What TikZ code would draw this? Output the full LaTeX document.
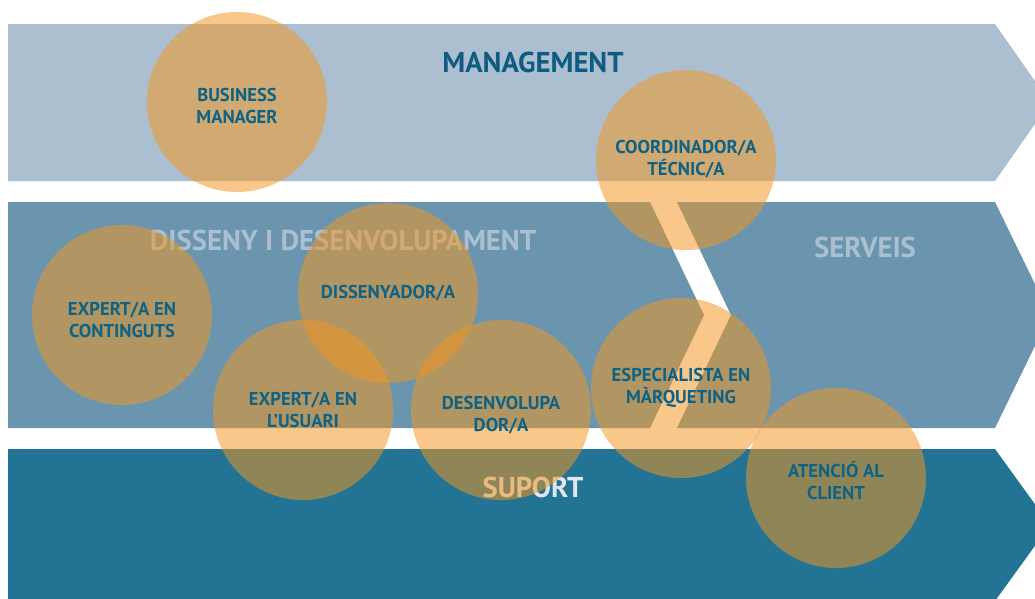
\documentclass[tikz,border=0pt]{standalone}
\usepackage{fontspec}
\setmainfont{PT Sans}
\definecolor{bandtop}{RGB}{171,191,209}
\definecolor{bandmid}{RGB}{107,149,175}
\definecolor{bandbot}{RGB}{35,116,148}
\definecolor{circ}{RGB}{243,149,30}
\definecolor{labelc}{RGB}{14,98,133}
\definecolor{titlec}{RGB}{16,92,128}
\definecolor{paletitle}{RGB}{171,191,209}
\definecolor{suporttitle}{RGB}{226,229,238}
\tikzset{
  band/.style={fill=#1, draw=none},
  role/.style={circle, minimum size=180pt, inner sep=0pt, fill=circ, fill opacity=0.52, draw=none},
  rolelabel/.style={text=labelc, font=\bfseries\fontsize{18.6}{22}\selectfont, align=center, inner sep=0pt},
  bandtitle/.style={font=\bfseries\fontsize{28.7}{32}\selectfont, inner sep=0pt}
}
\begin{document}
\begin{tikzpicture}[x=1pt,y=-1pt]
\useasboundingbox (0,0) rectangle (1035,598);
\clip (0,0) rectangle (1035,598);
\fill[white] (0,0) rectangle (1035,598);
% bands
\fill[band=bandtop] (8,24) -- (995,24) -- (1050,102.5) -- (995,181) -- (8,181) -- cycle;
\fill[band=bandmid] (8,202) -- (650,202) -- (704,315) -- (650,428) -- (8,428) -- cycle;
\fill[band=bandmid] (677,202) -- (995,202) -- (1050,315) -- (995,428) -- (677,428) -- (731,315) -- cycle;
\fill[band=bandbot] (8,449) -- (995,449) -- (1050,525) -- (995,601) -- (8,601) -- cycle;
% band titles
\node[bandtitle, text=titlec] (tman) at (533,62) {MANAGEMENT};
\node[bandtitle, text=paletitle] (tdis) at (343,240) {DISSENY I DESENVOLUPAMENT};
\node[bandtitle, text=paletitle] (tser) at (865,247) {SERVEIS};
\node[bandtitle, text=suporttitle] (tsup) at (533,487) {SUPORT};
% circles
\node[role] (c1) at (237,102) {};
\node[role] (c2) at (686,160) {};
\node[role] (c3) at (122,315) {};
\node[role] (c4) at (388,293) {};
\node[role] (c5) at (303,410) {};
\node[role] (c6) at (501,410) {};
\node[role] (c7) at (681,388) {};
\node[role] (c8) at (836,478) {};
% labels
\node[rolelabel] (l1) at (237,106) {BUSINESS\\MANAGER};
\node[rolelabel] (l2) at (686,159) {COORDINADOR/A\\TÉCNIC/A};
\node[rolelabel] (l3) at (122,320) {EXPERT/A EN\\CONTINGUTS};
\node[rolelabel] (l4) at (388,293) {DISSENYADOR/A};
\node[rolelabel] (l5) at (303,410) {EXPERT/A EN\\L’USUARI};
\node[rolelabel] (l6) at (501,415) {DESENVOLUPA\\DOR/A};
\node[rolelabel] (l7) at (681,388) {ESPECIALISTA EN\\MÀRQUETING};
\node[rolelabel] (l8) at (836,481) {ATENCIÓ AL\\CLIENT};
\end{tikzpicture}
\end{document}
